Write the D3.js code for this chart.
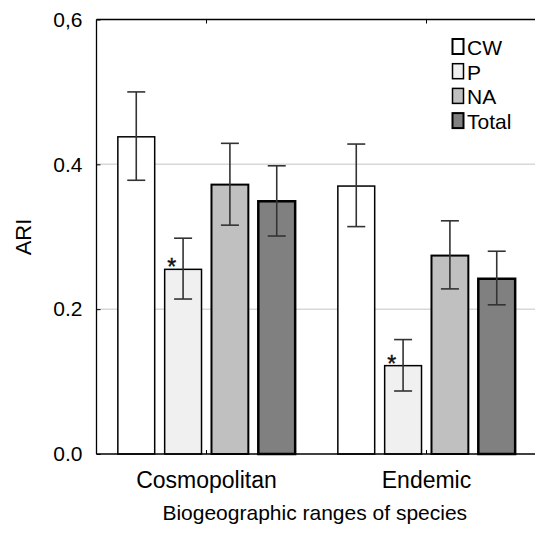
<!DOCTYPE html>
<html>
<head>
<meta charset="utf-8">
<script src="https://cdn.jsdelivr.net/npm/d3@7"></script>
<style>
  body { margin: 0; background: #fff; }
  svg { display: block; font-family: Arial, "Liberation Sans", sans-serif; }
</style>
</head>
<body>
<div id="chart"></div>
<script>
const categories = ["Cosmopolitan", "Endemic"]
const seriesNames = ["CW", "P", "NA", "Total"]
// mean ARI per series, one value per category
const meanCW = [0.438, 0.370]
const meanP = [0.255, 0.122]
const meanNA = [0.372, 0.274]
const meanTotal = [0.349, 0.242]
// error bar ends
const lowCW = [0.378, 0.314], highCW = [0.500, 0.428]
const lowP = [0.214, 0.087], highP = [0.298, 0.158]
const lowNA = [0.316, 0.228], highNA = [0.429, 0.322]
const lowTotal = [0.301, 0.206], highTotal = [0.398, 0.280]
// asterisk marks (significant)
const starP = [true, true]

const yTicks = [0, 0.2, 0.4, 0.6]
const yTickLabels = ["0.0", "0.2", "0.4", "0,6"]

const fills = {CW: "#ffffff", P: "#f0f0f0", NA: "#c0c0c0", Total: "#808080"}
const strokeW = {CW: 1.5, P: 1.5, NA: 2, Total: 2.5}

const width = 535, height = 533
const plot = {left: 96.5, right: 536.5, top: 19.5, bottom: 454}

const means = {CW: meanCW, P: meanP, NA: meanNA, Total: meanTotal}
const lows = {CW: lowCW, P: lowP, NA: lowNA, Total: lowTotal}
const highs = {CW: highCW, P: highP, NA: highNA, Total: highTotal}

let rows = []
categories.forEach((c, i) => {
    seriesNames.forEach(s => {
        rows.push({cat: c, series: s, value: means[s][i], lo: lows[s][i], hi: highs[s][i],
            star: s === "P" && starP[i]})
    })
})

const svg = d3.select("#chart").append("svg")
    .attr("width", width)
    .attr("height", height)

const x0 = d3.scaleBand().domain(categories)
    .range([plot.left, plot.right])
    .paddingInner(0.194).paddingOuter(0.097)
const x1 = d3.scaleBand().domain(seriesNames)
    .range([0, x0.bandwidth()])
    .paddingInner(0.213).paddingOuter(0)
const y = d3.scaleLinear().domain([0, 0.6]).range([plot.bottom, plot.top])

// gridlines
svg.append("g")
    .selectAll("line")
    .data(yTicks.filter(t => t > 0 && t < 0.6))
    .enter().append("line")
    .attr("x1", plot.left).attr("x2", width)
    .attr("y1", d => y(d)).attr("y2", d => y(d))
    .attr("stroke", "#d8d8d8").attr("stroke-width", 1.5)

// bars
const bars = svg.append("g")
bars.selectAll("rect")
    .data(rows)
    .enter().append("rect")
    .attr("x", d => x0(d.cat) + x1(d.series))
    .attr("y", d => y(d.value))
    .attr("width", x1.bandwidth())
    .attr("height", d => y(0) - y(d.value))
    .attr("fill", d => fills[d.series])
    .attr("stroke", "#000")
    .attr("stroke-width", d => strokeW[d.series])

// error bars
const capW = 18
const err = svg.append("g").attr("stroke", "#333").attr("stroke-width", 1.6)
rows.forEach(d => {
    const cx = x0(d.cat) + x1(d.series) + x1.bandwidth() / 2
    err.append("line").attr("x1", cx).attr("x2", cx).attr("y1", y(d.lo)).attr("y2", y(d.hi))
    err.append("line").attr("x1", cx - capW / 2).attr("x2", cx + capW / 2).attr("y1", y(d.lo)).attr("y2", y(d.lo))
    err.append("line").attr("x1", cx - capW / 2).attr("x2", cx + capW / 2).attr("y1", y(d.hi)).attr("y2", y(d.hi))
})

// asterisks
svg.append("g").selectAll("text")
    .data(rows.filter(d => d.star))
    .enter().append("text")
    .attr("x", d => x0(d.cat) + x1(d.series) + 7)
    .attr("y", d => y(d.value) + 6)
    .attr("text-anchor", "middle")
    .attr("font-size", 23)
    .attr("fill", "#111")
    .attr("stroke", "#111").attr("stroke-width", 0.4)
    .text("*")

// axes frame: left, bottom, top
const axisG = svg.append("g").attr("stroke", "#000").attr("stroke-width", 1.3)
axisG.append("line").attr("x1", plot.left).attr("x2", plot.left).attr("y1", plot.top).attr("y2", plot.bottom)
axisG.append("line").attr("x1", plot.left).attr("x2", width).attr("y1", plot.bottom).attr("y2", plot.bottom)
axisG.append("line").attr("x1", plot.left).attr("x2", width).attr("y1", plot.top).attr("y2", plot.top)

// y ticks (inward) and labels
const yAxis = d3.axisLeft(y).tickValues(yTicks)
    .tickFormat((d, i) => yTickLabels[i])
    .tickSizeInner(-4).tickSizeOuter(0).tickPadding(14)
const ya = svg.append("g").attr("transform", "translate(" + plot.left + ",0)").call(yAxis)
ya.select(".domain").remove()
ya.selectAll("text").attr("font-size", 21).attr("font-family", "Arial, 'Liberation Sans', sans-serif").attr("fill", "#000")

// x ticks at group centres (bottom, pointing up; top, pointing down)
const centres = categories.map(c => x0(c) + x0.bandwidth() / 2)
svg.append("g").selectAll("line").data(centres).enter().append("line")
    .attr("x1", d => d).attr("x2", d => d)
    .attr("y1", plot.bottom).attr("y2", plot.bottom - 4)
    .attr("stroke", "#000")
svg.append("g").selectAll("line").data(centres).enter().append("line")
    .attr("x1", d => d).attr("x2", d => d)
    .attr("y1", plot.top).attr("y2", plot.top + 4)
    .attr("stroke", "#000")

// category labels
svg.append("g").selectAll("text").data(categories).enter().append("text")
    .attr("x", d => x0(d) + x0.bandwidth() / 2)
    .attr("y", 488)
    .attr("text-anchor", "middle")
    .attr("font-size", 23)
    .text(d => d)

// axis titles
svg.append("text")
    .attr("x", (plot.left + width) / 2 - 1)
    .attr("y", 520)
    .attr("text-anchor", "middle")
    .attr("font-size", 21)
    .text("Biogeographic ranges of species")

svg.append("text")
    .attr("transform", "translate(31,237) rotate(-90)")
    .attr("text-anchor", "middle")
    .attr("font-size", 22)
    .text("ARI")

// legend
const legend = svg.append("g").attr("transform", "translate(452.5,39)")
seriesNames.forEach((s, i) => {
    const g = legend.append("g").attr("transform", "translate(0," + (i * 24.7) + ")")
    g.append("rect")
        .attr("width", 11).attr("height", 15)
        .attr("fill", fills[s])
        .attr("stroke", "#000")
        .attr("stroke-width", s === "CW" || s === "Total" ? 2 : 1.5)
    g.append("text")
        .attr("x", 14.5).attr("y", 16)
        .attr("font-size", 21)
        .text(s)
})
</script>
</body>
</html>
